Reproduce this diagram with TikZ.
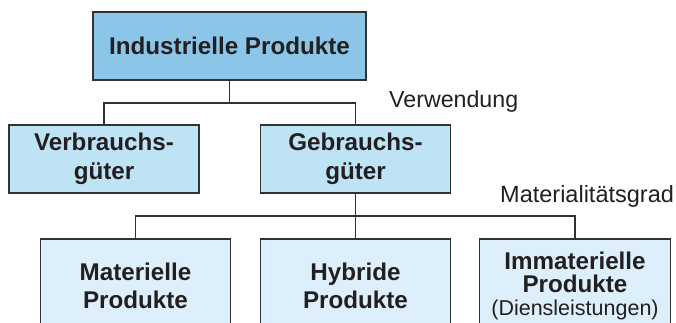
\documentclass[tikz,border=0pt]{standalone}
\usepackage{fontspec}
\setmainfont{Liberation Sans}
\definecolor{topfill}{RGB}{139,197,232}
\definecolor{midfill}{RGB}{190,227,245}
\definecolor{lowfill}{RGB}{221,239,250}
\definecolor{edge}{RGB}{50,50,50}
\definecolor{ink}{RGB}{35,31,32}
\begin{document}
\begin{tikzpicture}[x=1pt,y=-1pt,
  box/.style={draw=edge, line width=1.2pt, inner sep=0pt, align=center, text=ink},
  boldtxt/.style={font=\fontsize{24.2}{28.5}\selectfont\bfseries},
  conn/.style={draw=edge, line width=1.2pt},
  lbl/.style={inner sep=0pt, text=ink, anchor=base west}]
\useasboundingbox (0,0) rectangle (676,323);
\clip (0,0) rectangle (676,323);
\node[box, boldtxt, fill=topfill, minimum width=273pt, minimum height=68pt] (top) at (229.5,46) {Industrielle Produkte};
\node[box, boldtxt, fill=midfill, minimum width=190pt, minimum height=68pt] (verb) at (104,159) {Verbrauchs-\\güter};
\node[box, boldtxt, fill=midfill, minimum width=190pt, minimum height=68pt] (geb) at (355.5,159) {Gebrauchs-\\güter};
\node[box, fill=lowfill, minimum width=190pt, minimum height=94pt, font=\fontsize{24.2}{28}\selectfont\bfseries] (mat) at (135.5,286) {Materielle\\Produkte};
\node[box, fill=lowfill, minimum width=190pt, minimum height=94pt, font=\fontsize{24.2}{28}\selectfont\bfseries] (hyb) at (355.5,286) {Hybride\\Produkte};
\node[box, fill=lowfill, minimum width=191pt, minimum height=94pt, font=\fontsize{24.2}{23}\selectfont\bfseries] (imm) at (575,286) {Immaterielle\\Produkte\\{\fontsize{21.5}{23}\selectfont\mdseries (Diensleistungen)}};
\node[lbl, font=\fontsize{23.2}{26}\selectfont] (verw) at (389,108) {Verwendung};
\node[lbl, font=\fontsize{23.5}{26}\selectfont] (matg) at (500,202) {Materialitätsgrad};
\draw[conn] (top.south) -- ++(0,22.4) coordinate (j1);
\draw[conn] (verb.north) |- (j1) -| (geb.north);
\draw[conn] (geb.south) -- ++(0,22.4) coordinate (j2);
\draw[conn] (mat.north) |- (j2) -| (imm.north);
\draw[conn] (j2) -- (hyb.north);
\end{tikzpicture}
\end{document}
